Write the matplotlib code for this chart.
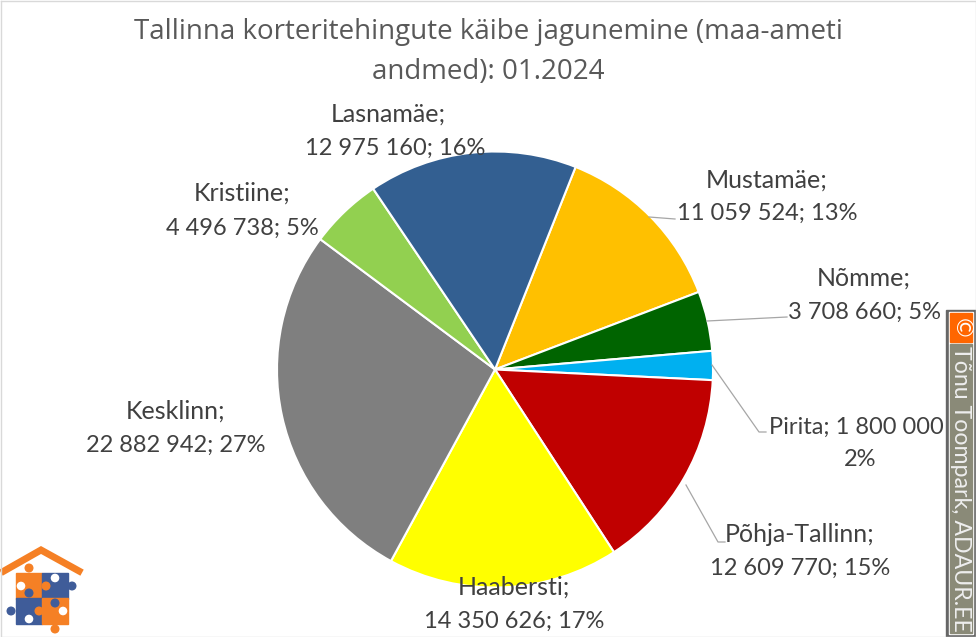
import matplotlib
matplotlib.use("Agg")
import matplotlib.pyplot as plt
from matplotlib.patches import Circle, Rectangle

districts = ["Mustamäe", "Nõmme", "Pirita", "Põhja-Tallinn", "Haabersti", "Kesklinn", "Kristiine", "Lasnamäe"]
turnover = [11059524, 3708660, 1800000, 12609770, 14350626, 22882942, 4496738, 12975160]
percent_labels = [13, 5, 2, 15, 17, 27, 5, 16]
colors = ["#FFC000", "#006400", "#00B0F0", "#C00000", "#FFFF00", "#7F7F7F", "#92D050", "#335F91"]
title_lines = ["Tallinna korteritehingute käibe jagunemine (maa-ameti", "andmed): 01.2024"]

W, H = 976, 637
FONT = "Lato"
TITLE_FONT = "Open Sans"
TEXT_COLOR = "#404040"

# pixel position of each label: centre x, y of first line, y of second line
label_pos = {
    "Mustamäe": (767, 180, 213),
    "Nõmme": (864, 278, 312),
    "Põhja-Tallinn": (800, 534, 568),
    "Haabersti": (514, 587, 621),
    "Kesklinn": (176, 411, 445),
    "Kristiine": (242, 193, 228),
    "Lasnamäe": (388, 114, 148),
}


def fmt_number(value):
    return f"{value:,}".replace(",", " ")


def draw_logo(ax):
    ax.add_patch(Rectangle((0, 542), 84, 95, color="white", zorder=3))
    ax.plot([4, 41, 79], [571, 550, 571], color="#F58025", lw=5, solid_joinstyle="miter", zorder=4)
    orange, blue = "#F58025", "#3F5C99"
    for x, y, c in [(16, 573, orange), (42, 573, blue), (16, 598, blue), (42, 598, orange)]:
        ax.add_patch(Rectangle((x, y), 26, 25.5, color=c, zorder=4))
    nubs = [(29, 568, orange), (72, 586, blue), (11, 611, blue), (55, 629, orange),
            (29, 593, blue), (55, 603, blue), (46, 586, orange), (39, 611, orange)]
    holes = [(21, 586), (55, 578), (29, 619), (63, 611)]
    for x, y, c in nubs:
        ax.add_patch(Circle((x, y), 3.8, color=c, zorder=5))
    for x, y in holes:
        ax.add_patch(Circle((x, y), 3.6, color="white", zorder=5))


def draw_credit(ax):
    ax.add_patch(Rectangle((946, 310), 30, 327, color="#666666", zorder=3))
    ax.add_patch(Rectangle((949, 312), 24, 322, color="white", zorder=4))
    ax.add_patch(Rectangle((950, 313), 22, 29, color="#FF6600", zorder=5))
    ax.add_patch(Rectangle((950, 344), 22, 289, color="#8A8A78", zorder=5))
    ax.text(961, 328, "©", rotation=270, ha="center", va="center", color="white",
            fontsize=17, family=FONT, zorder=6)
    ax.text(961, 489, "Tõnu Toompark, ADAUR.EE", rotation=270, ha="center", va="center",
            color="#EEEEEE", fontsize=16.7, family=FONT, zorder=6)


fig = plt.figure(figsize=(W / 100, H / 100), dpi=100)

# pie centred at (495, 369.5) with radius 218 px
pie_ax = fig.add_axes([(495 - 218) / W, 1 - (369.5 + 218) / H, 436 / W, 436 / H])
pie_ax.pie(turnover, colors=colors, startangle=68.3, counterclock=False, radius=1,
           wedgeprops={"edgecolor": "white", "linewidth": 1.5})
pie_ax.set_xlim(-1, 1)
pie_ax.set_ylim(-1, 1)

ov = fig.add_axes([0, 0, 1, 1], facecolor="none")
ov.set_xlim(0, W)
ov.set_ylim(H, 0)
ov.axis("off")

for line, y in zip(title_lines, [32, 72]):
    ov.text(488, y, line, ha="center", va="center", fontsize=20, color="#595959", family=TITLE_FONT)

for name, value, pct in zip(districts, turnover, percent_labels):
    if name not in label_pos:
        continue
    x, y1, y2 = label_pos[name]
    ov.text(x, y1, f"{name};", ha="center", va="center", fontsize=18, color=TEXT_COLOR, family=FONT, zorder=6)
    second_x = 395 if name == "Lasnamäe" else x
    ov.text(second_x, y2, f"{fmt_number(value)}; {pct}%", ha="center", va="center", fontsize=17,
            color=TEXT_COLOR, family=FONT, zorder=6)

# Pirita label wraps differently from the others, its ";" is hidden by the credit box
i = districts.index("Pirita")
ov.text(856, 427, f"{districts[i]}; {fmt_number(turnover[i])}", ha="center", va="center", fontsize=17,
        color=TEXT_COLOR, family=FONT, zorder=2)
ov.text(860, 460, f"{percent_labels[i]}%", ha="center", va="center", fontsize=17, color=TEXT_COLOR, family=FONT)

# leader lines
for xs, ys in [([649, 675], [217, 219]), ([707, 787], [321, 317]), ([712, 759, 766], [365, 432, 432]),
               ([686, 718, 725], [485, 542, 542])]:
    ov.plot(xs, ys, color="#A6A6A6", lw=0.9)

draw_credit(ov)
draw_logo(ov)

# chart border
ov.plot([0.5, W - 0.5, W - 0.5, 0.5, 0.5], [0.5, 0.5, H - 0.5, H - 0.5, 0.5], color="#D9D9D9", lw=1, zorder=7)

fig.savefig("out.png", dpi=100)
